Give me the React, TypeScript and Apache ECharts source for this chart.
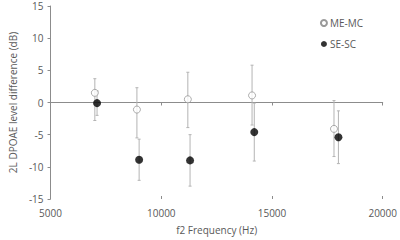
import React, { useEffect, useRef } from "react";
import * as echarts from "echarts";

const meFreq = [7000, 8900, 11200, 14100, 17800];
const meVal = [1.5, -1.1, 0.5, 1.1, -4.1];
const meLow = [-2.8, -5.5, -3.9, -3.5, -8.4];
const meHigh = [3.7, 2.3, 4.7, 5.8, 0.3];

const seFreq = [7100, 9000, 11300, 14200, 18000];
const seVal = [-0.1, -8.9, -9.0, -4.6, -5.4];
const seLow = [-2.0, -12.1, -13.0, -9.1, -9.5];
const seHigh = [1.8, -5.7, -5.0, -0.1, -1.3];

const xTicks = [5000, 10000, 15000, 20000];
const yTicks = [-15, -10, -5, 0, 5, 10, 15];

const FONT = "'Open Sans', 'Noto Sans', sans-serif";
const TXT = "#595959";
const AX = "#8c8c8c";

function errRender(params: any, api: any) {
  const x = api.value(0);
  const lo = api.coord([x, api.value(1)]);
  const hi = api.coord([x, api.value(2)]);
  const c = 1.5;
  const style = { stroke: "#b4b4b4", lineWidth: 1 };
  return {
    type: "group",
    children: [
      { type: "line", shape: { x1: lo[0], y1: lo[1], x2: hi[0], y2: hi[1] }, style },
      { type: "line", shape: { x1: lo[0] - c, y1: lo[1], x2: lo[0] + c, y2: lo[1] }, style },
      { type: "line", shape: { x1: hi[0] - c, y1: hi[1], x2: hi[0] + c, y2: hi[1] }, style },
    ],
  };
}

export default function App() {
  const ref = useRef<HTMLDivElement>(null);
  useEffect(() => {
    if (!ref.current) return;
    const chart = echarts.init(ref.current, undefined, { renderer: "svg" });
    const meErr = meFreq.map((f, i) => [f, meLow[i], meHigh[i]]);
    const seErr = seFreq.map((f, i) => [f, seLow[i], seHigh[i]]);
    chart.setOption({
      animation: false,
      grid: { left: 35, right: 12, top: 6, bottom: 32 },
      xAxis: [
        {
          type: "value",
          min: xTicks[0],
          max: xTicks[xTicks.length - 1],
          interval: 5000,
          splitLine: { show: false },
          axisLine: { show: true, lineStyle: { color: AX } },
          axisTick: { show: true, length: 3, lineStyle: { color: AX } },
          axisLabel: { color: TXT, fontFamily: FONT, fontSize: 10, margin: 9, formatter: (v: number) => String(v) },
          name: "f2 Frequency (Hz)",
          nameLocation: "middle",
          nameGap: 26,
          nameTextStyle: { color: TXT, fontFamily: FONT, fontSize: 10 },
        },
        {
          type: "value",
          position: "bottom",
          min: xTicks[0],
          max: xTicks[xTicks.length - 1],
          interval: 5000,
          splitLine: { show: false },
          axisLine: { show: false },
          axisTick: { show: true, inside: true, length: 3, lineStyle: { color: AX } },
          axisLabel: { show: false },
        },
      ],
      yAxis: {
        type: "value",
        min: yTicks[0],
        max: yTicks[yTicks.length - 1],
        interval: 5,
        splitLine: { show: false },
        axisLine: { show: true, lineStyle: { color: AX } },
        axisTick: { show: true, length: 3, lineStyle: { color: AX } },
        axisLabel: { color: TXT, fontFamily: FONT, fontSize: 10, margin: 7 },
        name: "2L DPOAE level difference (dB)",
        nameLocation: "middle",
        nameGap: 23,
        nameTextStyle: { color: TXT, fontFamily: FONT, fontSize: 10 },
      },
      legend: {
        right: 32,
        top: 13,
        orient: "vertical",
        itemGap: 11,
        itemWidth: 6,
        itemHeight: 6,
        icon: "circle",
        textStyle: { color: TXT, fontFamily: FONT, fontSize: 10, padding: [0, 0, 0, -2] },
        data: ["ME-MC", "SE-SC"],
      },
      series: [
        {
          type: "line",
          data: [[xTicks[0], 0], [xTicks[xTicks.length - 1], 0]],
          symbol: "none",
          lineStyle: { color: AX, width: 1 },
          silent: true,
          z: 1,
        },
        { type: "custom", renderItem: errRender, data: meErr, z: 2, silent: true },
        { type: "custom", renderItem: errRender, data: seErr, z: 2, silent: true },
        {
          name: "ME-MC",
          type: "scatter",
          data: meFreq.map((f, i) => [f, meVal[i]]),
          symbol: "circle",
          symbolSize: 7,
          itemStyle: { color: "#ffffff", borderColor: "#7f7f7f", borderWidth: 0.8 },
          z: 3,
        },
        {
          name: "SE-SC",
          type: "scatter",
          data: seFreq.map((f, i) => [f, seVal[i]]),
          symbol: "circle",
          symbolSize: 8,
          itemStyle: { color: "#000000" },
          z: 3,
        },
      ],
    });
    return () => chart.dispose();
  }, []);
  return <div ref={ref} style={{ width: 400, height: 240, position: "absolute", left: 0, top: 0 }} />;
}
